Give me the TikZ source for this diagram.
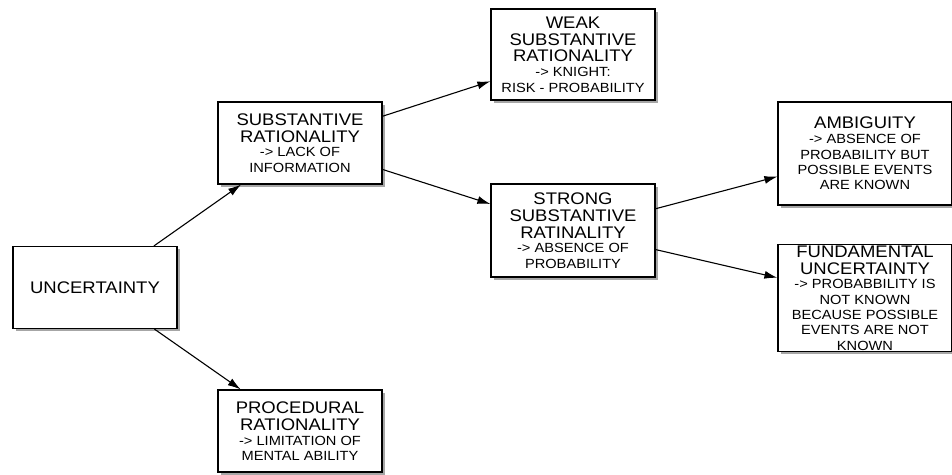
\documentclass[tikz,border=0pt]{standalone}
\usepackage{fontspec}
\setmainfont{Liberation Sans}[FakeStretch=1.1]
\usetikzlibrary{arrows.meta, positioning, shadows}
\newcommand{\hdtext}{\fontsize{16.8}{16.8}\selectfont}
\newcommand{\smtext}{\fontsize{13.3}{14.5}\selectfont}
\tikzstyle{concept} = [rectangle, minimum width=164pt, minimum height=82pt, align=center, inner sep=1pt, draw=black, line width=1.2pt, fill=white, font=\hdtext, drop shadow={shadow xshift=2.5pt, shadow yshift=-2.5pt, fill=black!35, opacity=1}]
\tikzstyle{arrow} = [line width=1.1pt, -{Latex[length=13pt, width=8pt]}]

\begin{document}
\begin{tikzpicture}[node distance=205pt]

\useasboundingbox (0,0) rectangle (952pt,-474pt);

\node (unc) [concept] at (95pt,-287.5pt) {UNCERTAINTY};
\node (subst) [concept, right of=unc, yshift=144.5pt] {SUBSTANTIVE\\ RATIONALITY\\[-2pt] \smtext -> LACK OF\\[-1.5pt] \smtext INFORMATION};
\node (proc) [concept, right of=unc, yshift=-143.5pt] {PROCEDURAL\\ RATIONALITY\\[-2pt] \smtext -> LIMITATION OF\\[-1.5pt] \smtext MENTAL ABILITY};

\node (weak) [concept, right of=subst, xshift=68pt, yshift=88.5pt, minimum height=91pt] {WEAK\\ SUBSTANTIVE\\ RATIONALITY\\[-2pt] \smtext -> KNIGHT:\\[-1.5pt] \smtext RISK - PROBABILITY};
\node (strong) [concept, right of=subst, xshift=68pt, yshift=-87.5pt, minimum height=93pt] {STRONG\\ SUBSTANTIVE\\ RATINALITY\\[-2pt] \smtext -> ABSENCE OF\\[-1.5pt] \smtext PROBABILITY};

\node (ambig) [concept, right of=strong, xshift=87pt, yshift=77pt, minimum width=174pt, minimum height=103pt] {AMBIGUITY\\[-2pt] \smtext -> ABSENCE OF\\[-1.5pt] \smtext PROBABILITY BUT\\[-1.5pt] \smtext POSSIBLE EVENTS\\[-1.5pt] \smtext ARE KNOWN};
\node (fund) [concept, right of=strong, xshift=87pt, yshift=-67.5pt, minimum width=174pt, minimum height=102pt] {FUNDAMENTAL\\ UNCERTAINTY\\[-2pt] \smtext -> PROBABBILITY IS\\[-1.5pt] \smtext NOT KNOWN\\[-1.5pt] \smtext BECAUSE POSSIBLE\\[-1.5pt] \smtext EVENTS ARE NOT\\[-1.5pt] \smtext KNOWN};

\draw [arrow] (unc) -- (subst);
\draw [arrow] (unc) -- (proc);
\draw [arrow] (subst) -- (weak);
\draw [arrow] (subst) -- (strong);
\draw [arrow] (strong) -- (ambig);
\draw [arrow] (strong) -- (fund);

\end{tikzpicture}
\end{document}
